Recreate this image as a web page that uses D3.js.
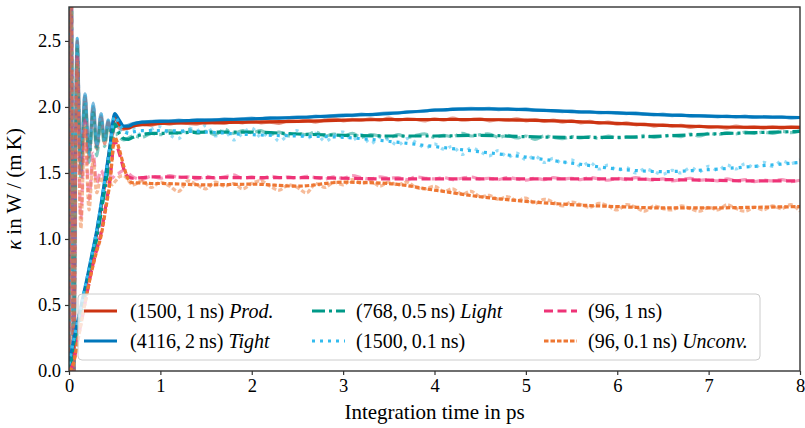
<!DOCTYPE html>
<html>
<head>
<meta charset="utf-8">
<script src="https://cdn.jsdelivr.net/npm/d3@7"></script>
<style>
    html, body { margin: 0; padding: 0; background: #fff; }
    svg { display: block; font-family: "Liberation Serif", "DejaVu Serif", serif; }
    .tick text { font-size: 18.5px; fill: #000; }
    .axis-label { font-size: 21px; fill: #000; }
    .legend-text { font-size: 20px; fill: #000; }
</style>
</head>
<body>
<svg id="chart" width="805" height="428"></svg>
<script>
(function () {
    "use strict";

    // ---- data (kappa in W/(m K) vs integration time in ps) ----
    // smoothed curves
    const tSmooth = [0, 0.05, 0.1, 0.15, 0.2, 0.25, 0.3, 0.35, 0.4, 0.45, 0.5, 0.55, 0.6, 0.65, 0.7,
        0.8, 0.9, 1.0, 1.5, 2, 2.5, 3, 3.5, 4, 4.5, 5, 5.5, 6, 6.5, 7, 7.5, 8];

    const prodSmooth = [0.02, 0.2, 0.37, 0.53, 0.69, 0.86, 1.03, 1.23, 1.46, 1.7, 1.92, 1.87, 1.84, 1.84, 1.855,
        1.865, 1.87, 1.875, 1.88, 1.885, 1.89, 1.9, 1.905, 1.905, 1.905, 1.9, 1.89, 1.875, 1.86, 1.85, 1.845, 1.845];
    const tightSmooth = [0.05, 0.23, 0.39, 0.55, 0.71, 0.88, 1.05, 1.26, 1.48, 1.71, 1.95, 1.9, 1.855, 1.855, 1.87,
        1.885, 1.888, 1.89, 1.9, 1.91, 1.92, 1.935, 1.95, 1.975, 1.985, 1.98, 1.965, 1.955, 1.94, 1.93, 1.925, 1.92];
    const lightSmooth = [0.02, 0.14, 0.31, 0.48, 0.65, 0.82, 0.99, 1.19, 1.41, 1.64, 1.87, 1.8, 1.76, 1.755, 1.77,
        1.79, 1.8, 1.8, 1.81, 1.81, 1.795, 1.785, 1.78, 1.78, 1.785, 1.775, 1.77, 1.77, 1.78, 1.795, 1.805, 1.815];
    const shortSmooth = [0.05, 0.23, 0.39, 0.55, 0.71, 0.88, 1.05, 1.26, 1.48, 1.71, 1.93, 1.87, 1.82, 1.8, 1.81,
        1.82, 1.82, 1.82, 1.81, 1.79, 1.78, 1.77, 1.74, 1.7, 1.66, 1.62, 1.575, 1.53, 1.51, 1.525, 1.55, 1.58];
    const small1nsSmooth = [0, 0.07, 0.25, 0.42, 0.6, 0.77, 0.91, 1.04, 1.24, 1.46, 1.74, 1.65, 1.53, 1.47, 1.46,
        1.465, 1.47, 1.47, 1.465, 1.465, 1.465, 1.46, 1.455, 1.455, 1.455, 1.455, 1.455, 1.455, 1.45, 1.445, 1.44, 1.44];
    const unconvSmooth = [0, 0.06, 0.24, 0.42, 0.6, 0.76, 0.9, 1.02, 1.22, 1.44, 1.77, 1.68, 1.55, 1.45, 1.425,
        1.425, 1.42, 1.42, 1.41, 1.415, 1.4, 1.43, 1.42, 1.37, 1.32, 1.285, 1.26, 1.245, 1.235, 1.235, 1.24, 1.245];

    // raw (unsmoothed) curves: oscillating start, then every 0.1 ps from 0.6 to 8.0
    const tEarly = [0, 0.02, 0.05, 0.09, 0.13, 0.175, 0.22, 0.265, 0.305, 0.35, 0.39, 0.43, 0.47, 0.51, 0.55];
    const tLate = d3.range(0.6, 8.05, 0.1);

    const prodRawEarly = [0, 4.2, -0.2, 2.5, 1.5, 2.08, 1.62, 2.0, 1.68, 1.93, 1.72, 1.89, 1.78, 1.87, 1.84];
    const prodRawLate = [1.83, 1.86, 1.87, 1.86, 1.88, 1.87, 1.885, 1.875, 1.87, 1.89,
        1.88, 1.875, 1.89, 1.88, 1.895, 1.88, 1.885, 1.875, 1.895, 1.89,
        1.9, 1.885, 1.9, 1.91, 1.895, 1.905, 1.9, 1.91, 1.9, 1.915,
        1.9, 1.91, 1.905, 1.895, 1.91, 1.9, 1.915, 1.9, 1.905, 1.91,
        1.895, 1.905, 1.9, 1.91, 1.895, 1.905, 1.89, 1.9, 1.885, 1.895,
        1.88, 1.89, 1.875, 1.885, 1.87, 1.88, 1.865, 1.87, 1.855, 1.865,
        1.855, 1.86, 1.845, 1.855, 1.845, 1.85, 1.84, 1.855, 1.845, 1.85,
        1.84, 1.85, 1.84, 1.85, 1.845];

    const tightRawEarly = [0, 4.4, -0.25, 2.52, 1.55, 2.1, 1.65, 2.03, 1.7, 1.95, 1.75, 1.9, 1.8, 1.88, 1.86];
    const tightRawLate = [1.85, 1.875, 1.885, 1.89, 1.895, 1.89, 1.9, 1.895, 1.905, 1.9,
        1.9, 1.91, 1.905, 1.91, 1.915, 1.91, 1.92, 1.915, 1.92, 1.925,
        1.92, 1.93, 1.925, 1.935, 1.94, 1.935, 1.945, 1.94, 1.95, 1.955,
        1.955, 1.965, 1.965, 1.97, 1.98, 1.975, 1.985, 1.985, 1.99, 1.985,
        1.99, 1.98, 1.985, 1.98, 1.985, 1.975, 1.975, 1.97, 1.965, 1.97,
        1.96, 1.965, 1.955, 1.96, 1.955, 1.95, 1.955, 1.945, 1.94, 1.945,
        1.935, 1.94, 1.93, 1.935, 1.93, 1.925, 1.93, 1.925, 1.93, 1.92,
        1.925, 1.92, 1.925, 1.915, 1.92];

    const lightRawEarly = [0, 4.0, -0.15, 2.45, 1.45, 2.02, 1.58, 1.96, 1.63, 1.9, 1.7, 1.85, 1.73, 1.8, 1.77];
    const lightRawLate = [1.75, 1.78, 1.77, 1.8, 1.79, 1.82, 1.8, 1.83, 1.8, 1.815,
        1.79, 1.83, 1.8, 1.82, 1.805, 1.82, 1.79, 1.81, 1.78, 1.8,
        1.79, 1.81, 1.78, 1.795, 1.775, 1.8, 1.77, 1.79, 1.78, 1.765,
        1.79, 1.77, 1.785, 1.795, 1.77, 1.785, 1.775, 1.8, 1.78, 1.79,
        1.795, 1.77, 1.785, 1.765, 1.78, 1.755, 1.78, 1.77, 1.76, 1.775,
        1.765, 1.775, 1.76, 1.78, 1.765, 1.775, 1.77, 1.785, 1.77, 1.78,
        1.785, 1.775, 1.795, 1.78, 1.8, 1.79, 1.805, 1.795, 1.81, 1.8,
        1.81, 1.8, 1.815, 1.805, 1.82];

    const shortRawEarly = [0, 4.3, -0.2, 2.52, 1.5, 2.1, 1.62, 2.02, 1.7, 1.95, 1.74, 1.9, 1.79, 1.86, 1.83];
    const shortRawLate = [1.8, 1.84, 1.78, 1.83, 1.85, 1.79, 1.76, 1.84, 1.82, 1.86,
        1.78, 1.82, 1.75, 1.8, 1.84, 1.77, 1.81, 1.74, 1.79, 1.82,
        1.76, 1.8, 1.74, 1.78, 1.81, 1.75, 1.79, 1.72, 1.77, 1.75,
        1.71, 1.76, 1.73, 1.69, 1.72, 1.68, 1.7, 1.64, 1.69, 1.66,
        1.63, 1.67, 1.62, 1.65, 1.6, 1.63, 1.58, 1.61, 1.57, 1.6,
        1.55, 1.58, 1.53, 1.56, 1.52, 1.54, 1.5, 1.53, 1.51, 1.49,
        1.52, 1.5, 1.54, 1.51, 1.55, 1.52, 1.56, 1.53, 1.57, 1.54,
        1.58, 1.55, 1.59, 1.57, 1.6];

    const small1nsRawEarly = [0, 3.8, -0.1, 2.4, 1.15, 1.9, 1.3, 1.65, 1.42, 1.52, 1.47, 1.5, 1.46, 1.49, 1.5];
    const small1nsRawLate = [1.52, 1.47, 1.45, 1.475, 1.46, 1.48, 1.465, 1.47, 1.455, 1.475,
        1.46, 1.47, 1.485, 1.46, 1.47, 1.455, 1.475, 1.465, 1.47, 1.46,
        1.475, 1.465, 1.455, 1.47, 1.46, 1.48, 1.465, 1.455, 1.47, 1.46,
        1.465, 1.45, 1.47, 1.46, 1.455, 1.465, 1.45, 1.46, 1.47, 1.455,
        1.46, 1.45, 1.465, 1.455, 1.445, 1.46, 1.45, 1.465, 1.455, 1.46,
        1.45, 1.465, 1.455, 1.445, 1.46, 1.45, 1.465, 1.455, 1.445, 1.455,
        1.44, 1.45, 1.46, 1.445, 1.45, 1.44, 1.455, 1.44, 1.45, 1.435,
        1.445, 1.44, 1.45, 1.435, 1.445];

    const unconvRawEarly = [0, 3.7, -0.1, 2.35, 1.08, 1.85, 1.22, 1.6, 1.35, 1.47, 1.4, 1.45, 1.41, 1.44, 1.47];
    const unconvRawLate = [1.48, 1.41, 1.44, 1.39, 1.43, 1.4, 1.36, 1.44, 1.41, 1.38,
        1.43, 1.4, 1.42, 1.38, 1.42, 1.44, 1.4, 1.37, 1.41, 1.39,
        1.35, 1.42, 1.39, 1.43, 1.41, 1.45, 1.42, 1.44, 1.4, 1.43,
        1.41, 1.43, 1.39, 1.38, 1.4, 1.36, 1.38, 1.34, 1.36, 1.32,
        1.33, 1.3, 1.32, 1.29, 1.31, 1.27, 1.3, 1.28, 1.25, 1.28,
        1.26, 1.24, 1.27, 1.25, 1.22, 1.26, 1.24, 1.21, 1.25, 1.23,
        1.22, 1.25, 1.23, 1.21, 1.24, 1.22, 1.26, 1.23, 1.21, 1.24,
        1.22, 1.25, 1.23, 1.26, 1.21];

    const xTicks = [0, 1, 2, 3, 4, 5, 6, 7, 8];
    const yTicks = [0, 0.5, 1.0, 1.5, 2.0, 2.5];

    // series styling, legend order is column-major (2 rows x 3 cols)
    const SERIES = [
        { label: "(1500,\u2009", unit: "1\u2009ns)", tag: "Prod.", color: "#cc3311", dash: null,
          smooth: prodSmooth, rawEarly: prodRawEarly, rawLate: prodRawLate },
        { label: "(4116,\u2009", unit: "2\u2009ns)", tag: "Tight", color: "#0077bb", dash: null,
          smooth: tightSmooth, rawEarly: tightRawEarly, rawLate: tightRawLate },
        { label: "(768,\u2009", unit: "0.5\u2009ns)", tag: "Light", color: "#009988", dash: "13,4,3,4",
          smooth: lightSmooth, rawEarly: lightRawEarly, rawLate: lightRawLate },
        { label: "(1500,\u2009", unit: "0.1\u2009ns)", tag: "", color: "#33bbee", dash: "3,5",
          smooth: shortSmooth, rawEarly: shortRawEarly, rawLate: shortRawLate },
        { label: "(96,\u2009", unit: "1\u2009ns)", tag: "", color: "#ee3377", dash: "9,4.5",
          smooth: small1nsSmooth, rawEarly: small1nsRawEarly, rawLate: small1nsRawLate },
        { label: "(96,\u2009", unit: "0.1\u2009ns)", tag: "Unconv.", color: "#ee7733", dash: "4.5,2",
          smooth: unconvSmooth, rawEarly: unconvRawEarly, rawLate: unconvRawLate }
    ];

    // ---- layout ----
    const W = 805;
    const H = 428;
    const margin = { top: 7, right: 5, bottom: 57, left: 69 };
    const innerW = W - margin.left - margin.right;
    const innerH = H - margin.top - margin.bottom;

    const svg = d3.select("#chart");
    const g = svg.append("g")
        .attr("transform", `translate(${margin.left},${margin.top})`);

    const x = d3.scaleLinear().domain([0, 8]).range([0, innerW]);
    const y = d3.scaleLinear().domain([0, 2.757]).range([innerH, 0]);

    g.append("clipPath").attr("id", "plot-clip")
        .append("rect").attr("width", innerW).attr("height", innerH);

    const plot = g.append("g").attr("clip-path", "url(#plot-clip)");

    const rawLine = d3.line()
        .x((d) => x(d[0]))
        .y((d) => y(d[1]))
        .curve(d3.curveCatmullRom.alpha(0.5));

    const smoothLine = d3.line()
        .x((d) => x(d[0]))
        .y((d) => y(d[1]))
        .curve(d3.curveMonotoneX);

    // faint raw traces first
    SERIES.forEach(function (s) {
        const pts = tEarly.map((t, i) => [t, s.rawEarly[i]])
            .concat(s.rawLate.map((v, i) => [tLate[i], v]));
        plot.append("path")
            .datum(pts)
            .attr("fill", "none")
            .attr("stroke", s.color)
            .attr("stroke-width", 3.2)
            .attr("stroke-opacity", 0.5)
            .attr("stroke-dasharray", s.dash)
            .attr("d", rawLine);
    });

    // smoothed curves on top
    SERIES.forEach(function (s) {
        plot.append("path")
            .datum(tSmooth.map((t, i) => [t, s.smooth[i]]))
            .attr("fill", "none")
            .attr("stroke", s.color)
            .attr("stroke-width", 3.2)
            .attr("stroke-dasharray", s.dash)
            .attr("d", smoothLine);
    });

    // ---- axes ----
    const xAxis = g.append("g")
        .attr("transform", `translate(0,${innerH})`)
        .call(d3.axisBottom(x).tickValues(xTicks).tickFormat(d3.format("d")).tickSizeOuter(0).tickSize(4).tickPadding(4));
    const yAxis = g.append("g")
        .call(d3.axisLeft(y).tickValues(yTicks).tickFormat(d3.format(".1f")).tickSizeOuter(0).tickSize(4).tickPadding(4));

    [xAxis, yAxis].forEach(function (a) {
        a.attr("font-family", null).attr("font-size", null);
        a.select(".domain").remove();
        a.selectAll(".tick line").attr("stroke", "#333").attr("stroke-width", 1.2);
    });

    // frame (all four spines)
    g.append("rect")
        .attr("width", innerW)
        .attr("height", innerH)
        .attr("fill", "none")
        .attr("stroke", "#333")
        .attr("stroke-width", 1.4);

    // axis labels
    svg.append("text")
        .attr("class", "axis-label")
        .attr("x", margin.left + innerW / 2)
        .attr("y", 419)
        .attr("text-anchor", "middle")
        .text("Integration time in ps");

    const yl = svg.append("text")
        .attr("class", "axis-label")
        .attr("transform", `translate(21,${margin.top + innerH / 2}) rotate(-90)`)
        .attr("text-anchor", "middle");
    yl.append("tspan").attr("font-style", "italic").text("\u03ba");
    yl.append("tspan").text(" in W / (m\u2009K)");

    // ---- legend ----
    const legend = svg.append("g");
    legend.append("rect")
        .attr("x", 78).attr("y", 294)
        .attr("width", 682).attr("height", 66)
        .attr("rx", 4)
        .attr("fill", "#fff").attr("fill-opacity", 0.8)
        .attr("stroke", "#cccccc").attr("stroke-width", 1);

    const colLineX = [84, 312, 544];
    const colTextX = [130, 356, 588];
    const rowY = [311, 341];

    SERIES.forEach(function (s, i) {
        const col = Math.floor(i / 2);
        const row = i % 2;
        legend.append("line")
            .attr("x1", colLineX[col]).attr("x2", colLineX[col] + 33)
            .attr("y1", rowY[row]).attr("y2", rowY[row])
            .attr("stroke", s.color)
            .attr("stroke-width", 3.2)
            .attr("stroke-dasharray", s.dash);
        const t = legend.append("text")
            .attr("class", "legend-text")
            .attr("x", colTextX[col])
            .attr("y", rowY[row] + 6.5);
        t.append("tspan").text(s.label + s.unit);
        if (s.tag) t.append("tspan").attr("font-style", "italic").text(" " + s.tag);
    });
})();
</script>
</body>
</html>
